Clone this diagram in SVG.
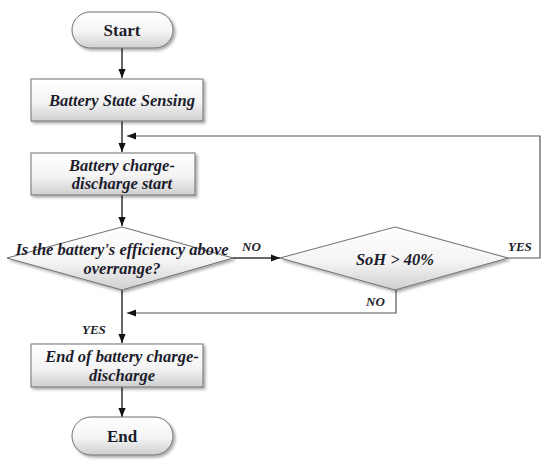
<svg xmlns="http://www.w3.org/2000/svg" width="550" height="470" viewBox="0 0 550 470">
<style>
.shape{fill:url(#g);stroke:#707070;stroke-width:1;filter:url(#sh)}
.t{font-family:"Liberation Serif","Times New Roman","DejaVu Serif",serif;font-weight:bold;font-style:italic;font-size:16.5px;fill:#1c1c2c;text-anchor:middle}
.tn{font-family:"Liberation Serif","Times New Roman","DejaVu Serif",serif;font-weight:bold;font-size:17px;fill:#1c1c2c;text-anchor:middle}
.lb{font-family:"Liberation Serif","Times New Roman","DejaVu Serif",serif;font-weight:bold;font-style:italic;font-size:13px;fill:#1c1c2c}
.c{fill:none;stroke:#333;stroke-width:1.5}
.cf{fill:none;stroke:#555;stroke-width:1.2}
</style>
<defs>
<linearGradient id="g" x1="0" y1="0" x2="0" y2="1">
<stop offset="0" stop-color="#ffffff"/>
<stop offset="0.55" stop-color="#f4f4f4"/>
<stop offset="1" stop-color="#cfcfcf"/>
</linearGradient>
<filter id="sh" x="-10%" y="-20%" width="130%" height="160%">
<feGaussianBlur in="SourceAlpha" stdDeviation="1.5"/>
<feOffset dx="2" dy="2" result="b"/>
<feComponentTransfer><feFuncA type="linear" slope="0.35"/></feComponentTransfer>
<feMerge><feMergeNode/><feMergeNode in="SourceGraphic"/></feMerge>
</filter>
<marker id="ab" viewBox="0 0 10 10" refX="10" refY="5" markerWidth="9" markerHeight="9" orient="auto" markerUnits="userSpaceOnUse">
<path d="M0,1 L10,5 L0,9 z" fill="#111"/>
</marker>
</defs>
<g id="connectors">
<line class="c" x1="122" y1="48" x2="122" y2="78" marker-end="url(#ab)"/>
<line class="c" x1="122" y1="121" x2="122" y2="152" marker-end="url(#ab)"/>
<line class="c" x1="122" y1="195" x2="122" y2="226" marker-end="url(#ab)"/>
<line class="c" x1="233" y1="258" x2="280" y2="258" marker-end="url(#ab)"/>
<polyline class="cf" points="508,258 540,258 540,136 127,136" marker-end="url(#ab)"/>
<polyline class="cf" points="396,290 396,313 127,313" marker-end="url(#ab)"/>
<line class="c" x1="122" y1="290" x2="122" y2="343" marker-end="url(#ab)"/>
<line class="c" x1="122" y1="387" x2="122" y2="417" marker-end="url(#ab)"/>
<text class="lb" x="242" y="251">NO</text>
<text class="lb" x="508" y="251">YES</text>
<text class="lb" x="366" y="306">NO</text>
<text class="lb" x="82" y="334">YES</text>
</g>
<g id="start">
<rect class="shape" x="72" y="12" width="101" height="36" rx="18" ry="18"/>
<text class="tn" x="122" y="36">Start</text>
</g>
<g id="sensing">
<rect class="shape" x="31" y="79" width="172" height="42"/>
<text class="t" x="122" y="106">Battery State Sensing</text>
</g>
<g id="cd-start">
<rect class="shape" x="31" y="153" width="164" height="42"/>
<text class="t" x="122" y="171">Battery charge-</text>
<text class="t" x="122" y="189">discharge start</text>
</g>
<g id="efficiency">
<polygon class="shape" points="122,227 233,258 122,290 7,258"/>
<text class="t" x="122" y="255">Is the battery's efficiency above</text>
<text class="t" x="122" y="274">overrange?</text>
</g>
<g id="soh">
<polygon class="shape" points="395,227 508,258 395,290 280,258"/>
<text class="t" x="395" y="265">SoH &gt; 40%</text>
</g>
<g id="cd-end">
<rect class="shape" x="31" y="344" width="172" height="43"/>
<text class="t" x="122" y="362">End of battery charge-</text>
<text class="t" x="122" y="381">discharge</text>
</g>
<g id="end">
<rect class="shape" x="72" y="417" width="101" height="38" rx="19" ry="19"/>
<text class="tn" x="122" y="442">End</text>
</g>
</svg>
